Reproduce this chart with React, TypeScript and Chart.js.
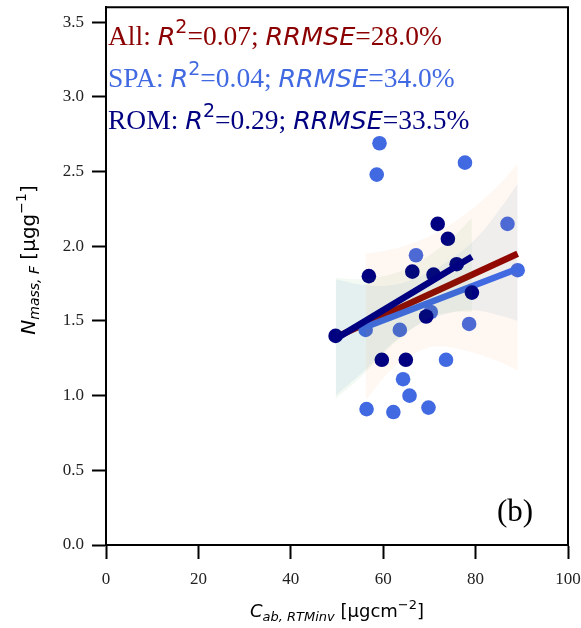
import React, { useEffect, useRef } from "react";
import { Chart, registerables } from "chart.js";
Chart.register(...registerables);

// ---- data ----
const spaX = [59.2, 58.6, 77.7, 86.9, 67.1, 89.1, 70.3, 56.2, 63.6, 78.6, 73.6, 64.3, 65.7, 56.4, 62.2, 69.8];
const spaY = [2.69, 2.48, 2.56, 2.15, 1.94, 1.84, 1.56, 1.44, 1.44, 1.48, 1.24, 1.11, 1.0, 0.91, 0.89, 0.92];
const romX = [71.8, 74.0, 56.9, 66.3, 70.9, 75.9, 79.2, 69.3, 49.7, 59.7, 64.9];
const romY = [2.15, 2.05, 1.8, 1.83, 1.81, 1.88, 1.69, 1.53, 1.4, 1.24, 1.24];

const fitAllX = [49.7, 89.1];
const fitAllY = [1.39, 1.95];
const fitSpaX = [56.2, 89.1];
const fitSpaY = [1.46, 1.85];
const fitRomX = [49.7, 79.2];
const fitRomY = [1.38, 1.93];

const bandAllX = [49.7, 56, 62, 68, 74, 80, 86, 89.1];
const bandAllHi = [1.78, 1.74, 1.74, 1.8, 1.9, 2.05, 2.28, 2.42];
const bandAllLo = [1.0, 1.17, 1.35, 1.48, 1.55, 1.57, 1.53, 1.5];
const bandSpaX = [56.2, 62, 68, 72, 78, 84, 89.1];
const bandSpaHi = [1.95, 1.98, 2.04, 2.1, 2.22, 2.38, 2.55];
const bandSpaLo = [0.97, 1.18, 1.3, 1.33, 1.3, 1.24, 1.17];
const bandRomX = [49.7, 55, 60, 65, 70, 75, 79.2];
const bandRomHi = [1.79, 1.78, 1.8, 1.85, 1.94, 2.06, 2.19];
const bandRomLo = [0.98, 1.12, 1.28, 1.42, 1.52, 1.56, 1.56];

const xTicks = [0, 20, 40, 60, 80, 100];
const yTicks = [0, 0.5, 1.0, 1.5, 2.0, 2.5, 3.0, 3.5];

const statGroups = ["All", "SPA", "ROM"];
const statR2 = ["0.07", "0.04", "0.29"];
const statRRMSE = ["28.0%", "34.0%", "33.5%"];
const statColors = ["#8B0000", "#4169E1", "#000080"];
const panelLabel = "(b)";

const C_ALL = "#8B0000";
const C_SPA = "#4169E1";
const C_ROM = "#000080";

const pts = (xs: number[], ys: number[]) => xs.map((x, i) => ({ x, y: ys[i] }));

type Seg = { t: string; f: string; dy?: number };
const SERIF = "'Liberation Serif', 'Times New Roman', serif";
const SANS = "'DejaVu Sans', sans-serif";

function segWidth(ctx: CanvasRenderingContext2D, segs: Seg[]) {
  let w = 0;
  for (const s of segs) {
    ctx.font = s.f;
    w += ctx.measureText(s.t).width;
  }
  return w;
}
function drawSegs(ctx: CanvasRenderingContext2D, x: number, y: number, segs: Seg[]) {
  let cx = x;
  for (const s of segs) {
    ctx.font = s.f;
    ctx.fillText(s.t, cx, y + (s.dy || 0));
    cx += ctx.measureText(s.t).width;
  }
}

const overlayPlugin = {
  id: "overlay",
  afterDraw(chart: any) {
    const ctx: CanvasRenderingContext2D = chart.ctx;
    const a = chart.chartArea;
    ctx.save();
    // top/right spines
    ctx.strokeStyle = "#000";
    ctx.lineWidth = 2;
    ctx.beginPath();
    ctx.moveTo(a.left - 1, a.top);
    ctx.lineTo(a.right, a.top);
    ctx.lineTo(a.right, a.bottom + 1);
    ctx.stroke();

    ctx.textBaseline = "alphabetic";
    ctx.textAlign = "left";
    // stats annotations
    const fs = 27.5;
    const baselines = [45, 87, 129];
    statGroups.forEach((g, i) => {
      ctx.fillStyle = statColors[i];
      const segs: Seg[] = [
        { t: g + ": ", f: `${fs}px ${SERIF}` },
        { t: "R", f: `italic ${fs - 2}px ${SANS}` },
        { t: "2", f: `${Math.round(fs * 0.68)}px ${SANS}`, dy: -12 },
        { t: "=" + statR2[i] + "; ", f: `${fs}px ${SERIF}` },
        { t: "RRMSE", f: `italic ${fs - 2}px ${SANS}` },
        { t: "=" + statRRMSE[i], f: `${fs}px ${SERIF}` },
      ];
      drawSegs(ctx, a.left + 2, baselines[i], segs);
    });

    // panel label
    ctx.fillStyle = "#000";
    ctx.font = `31px ${SERIF}`;
    ctx.fillText(panelLabel, 497, 521);

    // x title
    const xs: Seg[] = [
      { t: "C", f: `italic 18px ${SANS}` },
      { t: "ab, RTMinv", f: `italic 13px ${SANS}`, dy: 4 },
      { t: " [µgcm", f: `18px ${SANS}` },
      { t: "−2", f: `13px ${SANS}`, dy: -8 },
      { t: "]", f: `18px ${SANS}` },
    ];
    ctx.fillStyle = "#000";
    const xw = segWidth(ctx, xs);
    drawSegs(ctx, (a.left + a.right) / 2 - xw / 2, 617, xs);

    // y title
    const ys: Seg[] = [
      { t: "N", f: `italic 20px ${SANS}` },
      { t: "mass, F", f: `italic 14px ${SANS}`, dy: 4 },
      { t: " [µgg", f: `20px ${SANS}` },
      { t: "−1", f: `14px ${SANS}`, dy: -9 },
      { t: "]", f: `20px ${SANS}` },
    ];
    const yw = segWidth(ctx, ys);
    ctx.translate(35, 260);
    ctx.rotate(-Math.PI / 2);
    drawSegs(ctx, -yw / 2, 0, ys);
    ctx.restore();
  },
};

function band(xs: number[], hi: number[], lo: number[], color: string, order: number) {
  return [
    {
      type: "line",
      data: pts(xs, hi),
      borderWidth: 0,
      pointRadius: 0,
      tension: 0.4,
      fill: "+1",
      backgroundColor: color,
      order,
    },
    {
      type: "line",
      data: pts(xs, lo),
      borderWidth: 0,
      pointRadius: 0,
      tension: 0.4,
      fill: false,
      order: order - 0.5,
    },
  ];
}
function fitLine(xs: number[], ys: number[], color: string, order: number) {
  return {
    type: "line",
    data: pts(xs, ys),
    borderColor: color,
    borderWidth: 6.5,
    pointRadius: 0,
    fill: false,
    order,
  };
}
function scatter(xs: number[], ys: number[], color: string, order: number) {
  return {
    type: "scatter",
    data: pts(xs, ys),
    backgroundColor: color,
    borderColor: color,
    borderWidth: 0,
    pointRadius: 7.3,
    order,
  };
}

const zeroPad = (s: any) => {
  s.paddingLeft = 0;
  s.paddingRight = 0;
  s.paddingTop = 0;
  s.paddingBottom = 0;
};

export default function App() {
  const ref = useRef<HTMLCanvasElement>(null);
  useEffect(() => {
    if (!ref.current) return;
    const chart = new Chart(ref.current, {
      type: "scatter",
      data: {
        datasets: [
          ...band(bandAllX, bandAllHi, bandAllLo, "rgba(31,119,180,0.07)", 20),
          fitLine(fitAllX, fitAllY, C_ALL, 18),
          scatter(spaX, spaY, C_SPA, 17),
          ...band(bandSpaX, bandSpaHi, bandSpaLo, "rgba(255,127,14,0.06)", 16),
          fitLine(fitSpaX, fitSpaY, C_SPA, 14),
          scatter(romX, romY, C_ROM, 13),
          ...band(bandRomX, bandRomHi, bandRomLo, "rgba(44,160,44,0.06)", 12),
          fitLine(fitRomX, fitRomY, C_ROM, 10),
        ] as any,
      },
      options: {
        responsive: false,
        animation: false,
        devicePixelRatio: 1,
        layout: { padding: { top: 7, right: 13, left: 0, bottom: 0 } },
        plugins: { legend: { display: false }, tooltip: { enabled: false } },
        scales: {
          x: {
            type: "linear",
            min: 0,
            max: 100,
            afterBuildTicks: (s: any) => {
              s.ticks = xTicks.map((v) => ({ value: v }));
            },
            afterFit: (s: any) => {
              s.height = 83;
              zeroPad(s);
            },
            ticks: {
              font: { family: "Liberation Serif", size: 17 },
              color: "#222",
              padding: 10,
              callback: (v: any) => String(v),
            },
            grid: { display: true, drawOnChartArea: false, drawTicks: true, tickLength: 14, tickWidth: 2, tickColor: "#000" },
            border: { display: true, width: 2, color: "#000" },
          },
          y: {
            type: "linear",
            min: 0,
            max: 3.6,
            afterBuildTicks: (s: any) => {
              s.ticks = yTicks.map((v) => ({ value: v }));
            },
            afterFit: (s: any) => {
              s.width = 106;
              zeroPad(s);
            },
            ticks: {
              font: { family: "Liberation Serif", size: 17 },
              color: "#222",
              padding: 8,
              callback: (v: any) => Number(v).toFixed(1),
            },
            grid: { display: true, drawOnChartArea: false, drawTicks: true, tickLength: 14, tickWidth: 2, tickColor: "#000" },
            border: { display: true, width: 2, color: "#000" },
          },
        },
      } as any,
      plugins: [overlayPlugin],
    });
    return () => chart.destroy();
  }, []);
  return (
    <div style={{ position: "absolute", left: 0, top: 0, width: 581, height: 628, background: "#fff" }}>
      <canvas ref={ref} width={581} height={628} />
    </div>
  );
}
